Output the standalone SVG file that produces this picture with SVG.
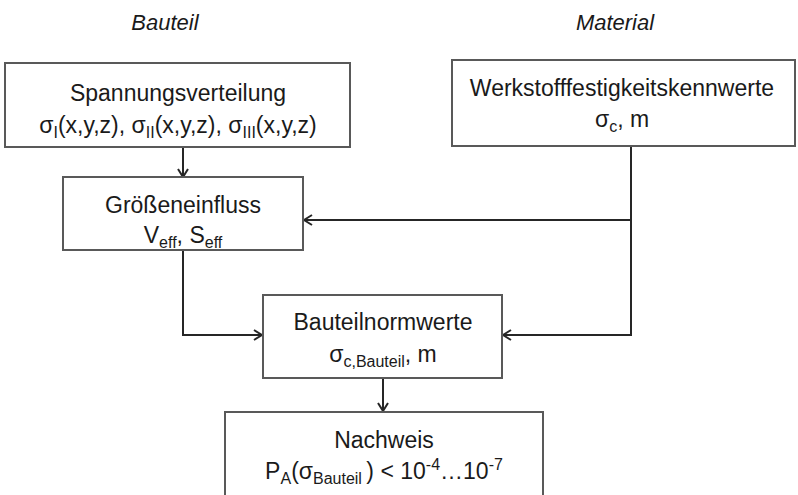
<svg xmlns="http://www.w3.org/2000/svg" width="798" height="495" viewBox="0 0 798 495">
<style>
.box{fill:#fff;stroke:#595959;stroke-width:2}
.t{font-family:"Liberation Sans",Arial,sans-serif;font-size:23px;fill:#1a1a1a;text-anchor:middle}
.h{font-family:"Liberation Sans",Arial,sans-serif;font-size:22px;font-style:italic;fill:#1a1a1a;text-anchor:middle}
.s{font-size:16px}
.c{fill:none;stroke:#262626;stroke-width:2}
</style>
<defs>
<marker id="ah" viewBox="0 0 10 12" refX="9" refY="6" markerWidth="10" markerHeight="12" markerUnits="userSpaceOnUse" orient="auto">
<path d="M1,1 L9,6 L1,11" fill="none" stroke="#262626" stroke-width="2"/>
</marker>
</defs>
<text class="h" x="165" y="30">Bauteil</text>
<text class="h" x="615" y="30">Material</text>
<g id="connectors">
<path class="c" d="M183,147 V177" marker-end="url(#ah)"/>
<path class="c" d="M631,146 V335 H503" marker-end="url(#ah)"/>
<path class="c" d="M631,220 H304" marker-end="url(#ah)"/>
<path class="c" d="M183,250 V335 H262" marker-end="url(#ah)"/>
<path class="c" d="M383,378 V411" marker-end="url(#ah)"/>
</g>
<g id="spannung">
<rect class="box" x="5" y="63" width="345" height="84"/>
<text class="t" x="178" y="101">Spannungsverteilung</text>
<text class="t" x="178" y="133">σ<tspan class="s" dy="5">I</tspan><tspan dy="-5">(x,y,z), σ</tspan><tspan class="s" dy="5">II</tspan><tspan dy="-5">(x,y,z), σ</tspan><tspan class="s" dy="5">III</tspan><tspan dy="-5">(x,y,z)</tspan></text>
</g>
<g id="werkstoff">
<rect class="box" x="452" y="60" width="343" height="86"/>
<text class="t" x="622" y="96">Werkstofffestigkeitskennwerte</text>
<text class="t" x="622" y="127">σ<tspan class="s" dy="5">c</tspan><tspan dy="-5">, m</tspan></text>
</g>
<g id="groesse">
<rect class="box" x="63" y="177" width="240" height="73"/>
<text class="t" x="183" y="213">Größeneinfluss</text>
<text class="t" x="183" y="243">V<tspan class="s" dy="5">eff</tspan><tspan dy="-5">, S</tspan><tspan class="s" dy="5">eff</tspan></text>
</g>
<g id="bauteilnorm">
<rect class="box" x="263" y="295" width="239" height="83"/>
<text class="t" x="383" y="330">Bauteilnormwerte</text>
<text class="t" x="383" y="362">σ<tspan class="s" dy="5">c,Bauteil</tspan><tspan dy="-5">, m</tspan></text>
</g>
<g id="nachweis">
<rect class="box" x="225" y="412" width="318" height="100"/>
<text class="t" x="384" y="448">Nachweis</text>
<text class="t" x="384" y="479">P<tspan class="s" dy="5">A</tspan><tspan dy="-5">(σ</tspan><tspan class="s" dy="5">Bauteil </tspan><tspan dy="-5">) &lt; 10</tspan><tspan class="s" dy="-9">-4</tspan><tspan dy="9">…10</tspan><tspan class="s" dy="-9">-7</tspan></text>
</g>
</svg>
